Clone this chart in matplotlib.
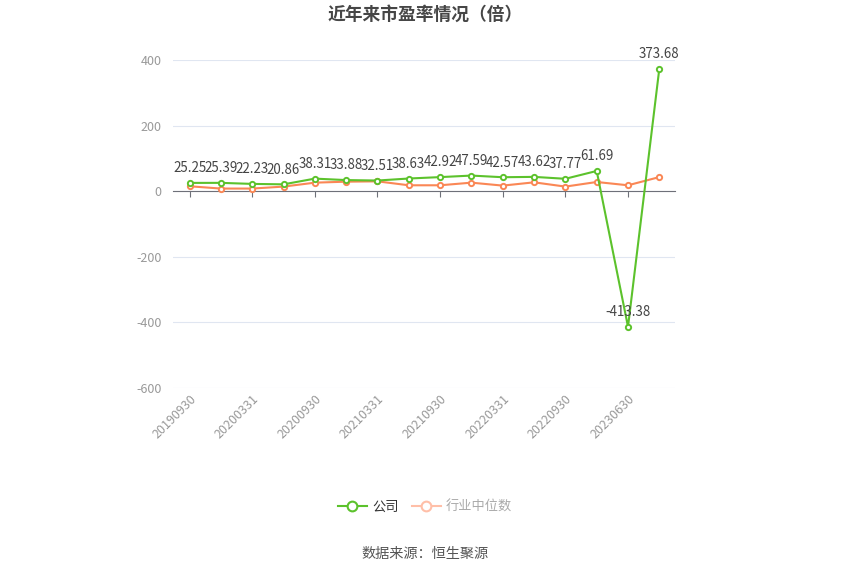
import matplotlib
matplotlib.use('Agg')
import matplotlib.pyplot as plt
from matplotlib.lines import Line2D

plt.rcParams['font.family'] = ['Noto Sans CJK SC', 'DejaVu Sans']
plt.rcParams['axes.unicode_minus'] = False

# 数据
dates = ['20190930', '20191231', '20200331', '20200630', '20200930', '20201231',
         '20210331', '20210630', '20210930', '20211231', '20220331', '20220630',
         '20220930', '20221231', '20230630', '20230930']
company = [25.25, 25.39, 22.23, 20.86, 38.31, 33.88, 32.51, 38.63, 42.92, 47.59,
           42.57, 43.62, 37.77, 61.69, -413.38, 373.68]
industry = [15, 8, 8, 14, 26, 29, 30, 18, 18, 26, 17, 27, 14, 28, 18, 43]
yticks = [-600, -400, -200, 0, 200, 400]

green = '#5cc22c'
orange = '#fa8755'

fig = plt.figure(figsize=(8.5, 5.75), dpi=100)
ax = fig.add_axes([0.2035, 0.3252, 0.5906, 0.5705])

x = list(range(len(dates)))
ax.plot(x, industry, color=orange, lw=1.5, marker='o', ms=3.8,
        mfc='white', mec=orange, mew=1.4, zorder=3)
ax.plot(x, company, color=green, lw=1.5, marker='o', ms=3.8,
        mfc='white', mec=green, mew=1.4, zorder=4)

for xi, v in zip(x, company):
    ax.annotate(f'{v:.2f}', (xi, v), xytext=(0, 5.5), textcoords='offset points',
                ha='center', va='bottom', fontsize=9.6, color='#444444', zorder=5)

ax.set_xlim(-0.53, 15.5)
ax.set_ylim(-600, 400)
ax.set_yticks(yticks)
ax.yaxis.grid(True, color='#e0e6f1', lw=0.8)
ax.set_axisbelow(True)
for s in ['top', 'right', 'left']:
    ax.spines[s].set_visible(False)
ax.spines['bottom'].set_position(('data', 0))
ax.spines['bottom'].set_color('#6e7079')
ax.tick_params(axis='y', length=0, labelsize=9, labelcolor='#999999', pad=8)

ax.set_xticks(x[::2])
ax.tick_params(axis='x', length=4, color='#6e7079', labelbottom=False)

sec = ax.secondary_xaxis(0.0)
sec.set_xticks(x[::2])
sec.set_xticklabels(dates[::2], rotation=45, ha='right', rotation_mode='anchor',
                    fontsize=9, color='#999999')
sec.tick_params(length=0, pad=3)
sec.spines['bottom'].set_visible(False)

fig.text(0.5, 0.975, '近年来市盈率情况（倍）', ha='center', va='center',
         fontsize=12.8, fontweight='bold', color='#464646')

handles = [Line2D([], [], color=green, lw=1.5, marker='o', ms=7, mfc='white', mew=1.5),
           Line2D([], [], color='#ffbfa8', lw=1.5, marker='o', ms=7, mfc='white', mew=1.5)]
leg = fig.legend(handles, ['公司', '行业中位数'], loc='center', bbox_to_anchor=(0.5, 0.118),
                 ncol=2, frameon=False, fontsize=9.5, handlelength=2.2,
                 columnspacing=1.0, handletextpad=0.4)
leg.get_texts()[0].set_color('#333333')
leg.get_texts()[1].set_color('#aaaaaa')

fig.text(0.5, 0.037, '数据来源：恒生聚源', ha='center', va='center',
         fontsize=10.2, color='#555555')

fig.savefig('out.png', dpi=100)
